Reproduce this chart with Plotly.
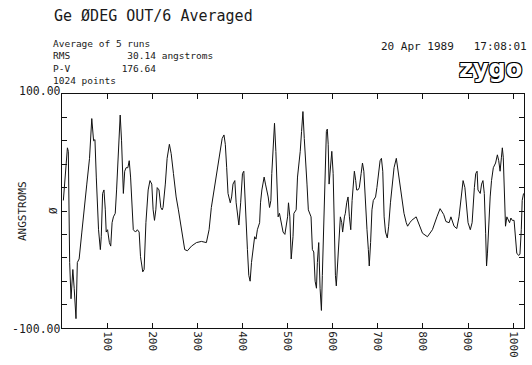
import plotly.graph_objects as go

# ---- data (profile index vs. height in angstroms) ----
position = [3, 7, 12, 14, 17, 20, 24, 27, 31, 34, 38, 44, 49, 55, 61, 66, 70, 73, 76, 79,
            81, 85, 87, 90, 93, 96, 98, 101, 105, 108, 111, 114, 118, 121, 125, 129, 132, 134, 136, 139,
            142, 146, 149, 152, 155, 158, 163, 167, 171, 174, 179, 182, 186, 191, 195, 199, 202, 205, 208, 211,
            215, 219, 222, 224, 229, 233, 238, 242, 247, 253, 258, 265, 272, 278, 287, 298, 309, 320, 326, 331,
            339, 345, 350, 355, 359, 362, 365, 368, 373, 376, 379, 383, 386, 389, 392, 396, 400, 403, 405, 408,
            411, 414, 417, 420, 423, 427, 430, 433, 438, 440, 443, 448, 451, 454, 457, 460, 463, 465, 469, 471,
            474, 477, 479, 482, 486, 490, 494, 496, 500, 502, 505, 508, 512, 514, 519, 522, 525, 528, 531, 534,
            537, 540, 543, 546, 549, 552, 555, 558, 561, 564, 566, 569, 572, 575, 577, 580, 583, 586, 588, 590,
            592, 595, 598, 601, 603, 606, 608, 611, 614, 617, 620, 622, 626, 628, 631, 634, 637, 640, 643, 646,
            648, 651, 653, 656, 659, 663, 666, 669, 672, 676, 679, 681, 684, 687, 690, 695, 698, 702, 705, 708,
            711, 714, 717, 721, 724, 728, 732, 736, 741, 745, 749, 754, 758, 763, 766, 771, 775, 785, 792, 799,
            810, 821, 831, 838, 846, 851, 858, 862, 869, 875, 880, 886, 889, 893, 896, 900, 905, 909, 914, 917,
            920, 922, 927, 930, 933, 936, 939, 941, 943, 946, 949, 952, 956, 961, 965, 968, 971, 974, 976, 978,
            981, 983, 986, 989, 992, 995, 998, 1002, 1005, 1008, 1012, 1015, 1018, 1020, 1023]
angstroms = [9, 32, 54, 51, -44, -75, -50, -66, -92, -44, -41, -18, 3, 23, 45, 79, 60, 61, 29, 3,
             -16, -33, -22, 15, 18, 1, -18, -16, -27, -30, -10, -5, -2, 18, 57, 82, 60, 29, 15, 34,
             37, 37, 43, 29, 3, -16, -18, -16, -18, -39, -52, -50, -10, 18, 26, 23, 1, -8, 1, 20,
             18, 3, 1, 3, 23, 45, 57, 49, 32, 12, 1, -16, -33, -34, -30, -27, -26, -27, -16, 3,
             23, 37, 51, 62, 65, 57, 37, 15, 7, 12, 23, 26, 7, -5, -12, 7, 32, 34, 20, -5,
             -33, -55, -60, -44, -35, -22, -24, -16, -10, 7, 18, 29, 23, 18, 12, 3, 9, 32, 60, 75,
             51, 20, -5, -2, -10, -18, -20, -16, -5, 7, -5, -41, -22, -2, 1, 29, 40, 51, 68, 85,
             62, 45, 23, 1, -2, -5, -33, -35, -60, -66, -44, -27, -66, -85, -55, -10, 23, 68, 70, 57,
             23, 34, 51, 32, -5, -55, -64, -44, -22, -5, -10, -18, -5, -2, 7, 12, -5, -16, 9, 29,
             34, 26, 18, 18, 20, 32, 41, 34, 9, -16, -33, -47, -27, 1, 9, 12, 20, 34, 43, 45,
             34, -5, -18, -23, -13, 7, 23, 37, 45, 34, 23, 9, -2, -10, -13, -10, -8, -5, -13, -19,
             -22, -16, -5, 2, -3, -9, -10, -5, -13, -15, -5, 18, 26, 20, 6, -10, -16, -10, 20, 32,
             34, 18, 15, 23, 26, 15, -19, -47, -36, -5, 12, 26, 37, 41, 48, 43, 34, 46, 54, 46,
             18, -13, -5, -8, -10, -6, -8, -8, -19, -36, -38, -37, -16, 9, 15]

x_ticks = [100, 200, 300, 400, 500, 600, 700, 800, 900, 1000]
x_tick_labels = ["100", "200", "300", "400", "500", "600", "700", "800", "900", "1000"]
y_ticks = [-100, -80, -60, -40, -20, 0, 20, 40, 60, 80, 100]

title_text = "Ge \u00d8DEG OUT/6 Averaged"
info_lines = ["Average of 5 runs",
              "RMS          30.14 angstroms",
              "P-V         176.64",
              "1024 points"]
date_text = "20 Apr 1989   17:08:01"
y_top_label = "100.00"
y_bottom_label = "-100.00"
y_mid_label = "\u00d8"
y_axis_title = "ANGSTROMS"
logo_text = "zygo"

# ---- layout geometry (pixels in the 532x365 page) ----
W, H = 532, 365
L, R, T, B = 62, 525, 94, 332
MONO = "DejaVu Sans Mono"
INK = "#1a1a1a"


def px(x):
    return (x - L) / (R - L)


def py(y):
    return (B - y) / (B - T)


fig = go.Figure()
fig.add_trace(go.Scatter(x=position, y=angstroms, mode="lines",
                         line=dict(color="#111111", width=1), hoverinfo="skip"))

ann = []
ann.append(dict(text=title_text, x=px(52), y=py(15), xanchor="left", yanchor="middle",
                font=dict(family=MONO, size=15, color=INK)))
info_block = "<br>".join(line.replace(" ", "\u00a0") for line in info_lines)
ann.append(dict(text=info_block, x=px(52), y=py(36.5), xanchor="left", yanchor="top",
                align="left", borderpad=0,
                font=dict(family=MONO, size=9.5, color=INK)))
ann.append(dict(text=date_text.replace(" ", "\u00a0"), x=px(530), y=py(46),
                xanchor="right", yanchor="middle",
                font=dict(family=MONO, size=11, color=INK)))
ann.append(dict(text="<b>" + logo_text + "</b>", x=px(491), y=py(69), xanchor="center",
                yanchor="middle",
                font=dict(family="DejaVu Sans", size=24, color="white",
                          shadow="1px 1px 0 #000, -1px -1px 0 #000, 1px -1px 0 #000, -1px 1px 0 #000")))
ann.append(dict(text=y_top_label, x=px(62), y=py(91), xanchor="right", yanchor="middle",
                borderpad=0, font=dict(family=MONO, size=11.5, color=INK)))
ann.append(dict(text=y_bottom_label, x=px(62), y=py(333), xanchor="right", yanchor="middle",
                borderpad=0, font=dict(family=MONO, size=11.5, color=INK)))
ann.append(dict(text=y_mid_label, x=px(53), y=py(213), xanchor="center", yanchor="middle",
                textangle=-90, font=dict(family=MONO, size=11, color=INK)))
ann.append(dict(text=y_axis_title, x=px(22), y=py(213), xanchor="center", yanchor="middle",
                textangle=-90, font=dict(family=MONO, size=11, color=INK)))
for a in ann:
    a.update(xref="paper", yref="paper", showarrow=False)

fig.update_layout(
    width=W, height=H,
    margin=dict(l=L, r=W - R, t=T, b=H - B, pad=0),
    paper_bgcolor="white", plot_bgcolor="white",
    showlegend=False,
    annotations=ann,
    xaxis=dict(range=[0, 1024], tickvals=x_ticks, ticktext=x_tick_labels, tickangle=90,
               ticks="inside", ticklen=5, tickcolor="#111", showgrid=False, zeroline=False,
               showline=True, linecolor="#111", linewidth=1, mirror="ticks",
               tickfont=dict(family=MONO, size=11, color=INK)),
    yaxis=dict(range=[-100, 100], tickvals=y_ticks, showticklabels=False,
               ticks="inside", ticklen=5, tickcolor="#111", showgrid=False, zeroline=False,
               showline=True, linecolor="#111", linewidth=1, mirror="ticks"),
)

fig.write_html("out.html")
